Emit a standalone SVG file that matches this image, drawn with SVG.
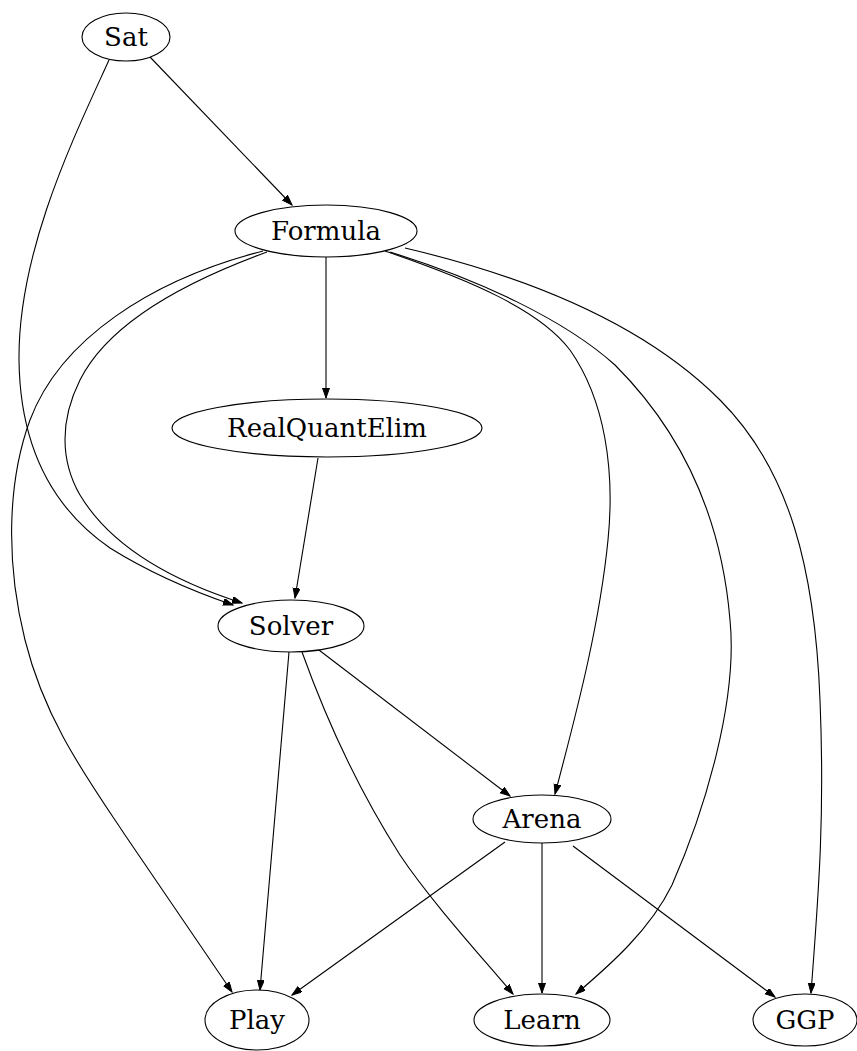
<svg xmlns="http://www.w3.org/2000/svg" width="857" height="1051" viewBox="0 0 857 1051">
<style>
.n ellipse{fill:#fff;stroke:#000;stroke-width:1.1}
.n text{font-family:"DejaVu Serif","Liberation Serif",serif;font-size:26px;text-anchor:middle;fill:#000}
#edges path{fill:none;stroke:#000;stroke-width:1.1;marker-end:url(#arr)}
</style>
<defs>
<marker id="arr" markerUnits="userSpaceOnUse" markerWidth="11" markerHeight="8" refX="10" refY="3.5" orient="auto">
<path d="M0,0 L10,3.5 L0,7 z" fill="#000" stroke="#000" stroke-width="1"/>
</marker>
</defs>
<rect width="857" height="1051" fill="#fff"/>
<g id="edges">
<path d="M150,57 L292,205"/>
<path d="M109,60 C75,135 18,250 19,360 C20,450 55,510 110,548 C150,573 195,592 233,605"/>
<path d="M267,252 C190,280 110,320 80,380 C60,420 60,460 80,495 C110,545 170,580 242,603"/>
<path d="M263,251 C150,280 60,340 30,420 C8,480 5,560 25,640 C45,720 85,775 125,835 L232,992"/>
<path d="M326,257 L326,398"/>
<path d="M385,251 C470,280 540,310 570,350 C605,400 615,470 608,540 C600,620 580,700 555,794"/>
<path d="M390,252 C480,280 565,320 615,365 C670,420 720,500 730,620 C738,700 705,810 672,885 C650,930 610,965 576,994"/>
<path d="M405,248 C520,275 640,320 720,400 C790,470 815,570 820,700 C825,820 818,900 811,993"/>
<path d="M318,458 L295,598"/>
<path d="M289,652 L260,990"/>
<path d="M302,652 C330,730 365,800 400,855 C430,900 480,955 513,994"/>
<path d="M315,647 L510,796"/>
<path d="M505,842 L292,995"/>
<path d="M542,843 L542,993"/>
<path d="M573,846 L775,997"/>
</g>
<g id="Sat" class="n"><ellipse cx="126" cy="37" rx="44" ry="24"/><text x="126" y="46">Sat</text></g>
<g id="Formula" class="n"><ellipse cx="326" cy="231" rx="91" ry="26"/><text x="326" y="240">Formula</text></g>
<g id="RealQuantElim" class="n"><ellipse cx="327" cy="428" rx="155" ry="29"/><text x="327" y="437">RealQuantElim</text></g>
<g id="Solver" class="n"><ellipse cx="291" cy="626" rx="73" ry="26"/><text x="291" y="635">Solver</text></g>
<g id="Arena" class="n"><ellipse cx="542" cy="819" rx="69" ry="24"/><text x="542" y="828">Arena</text></g>
<g id="Play" class="n"><ellipse cx="257" cy="1020" rx="52" ry="30"/><text x="257" y="1029">Play</text></g>
<g id="Learn" class="n"><ellipse cx="542" cy="1020" rx="68" ry="26"/><text x="542" y="1029">Learn</text></g>
<g id="GGP" class="n"><ellipse cx="805" cy="1020" rx="52" ry="26"/><text x="805" y="1029">GGP</text></g>
</svg>
